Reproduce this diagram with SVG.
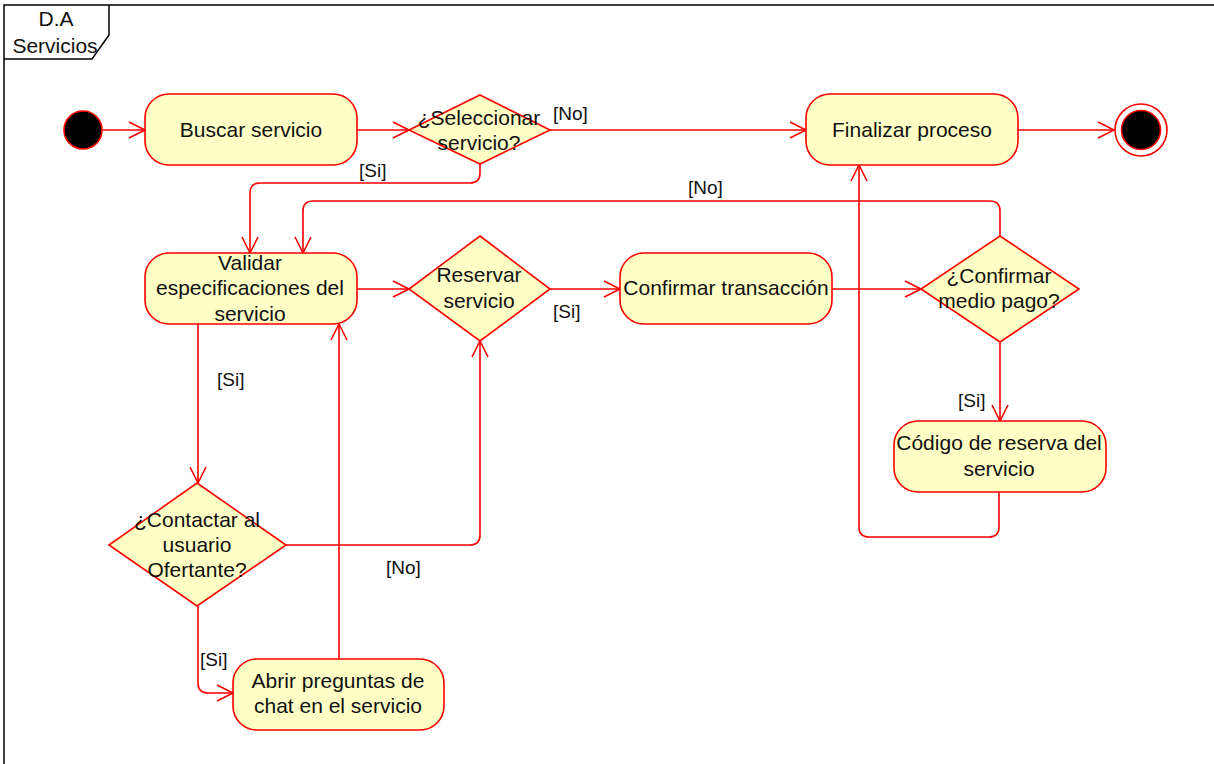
<svg xmlns="http://www.w3.org/2000/svg" width="1214" height="764" viewBox="0 0 1214 764">
<style>
.frame{fill:none;stroke:#000;stroke-width:1.5}
.act{fill:#FFFFC6;stroke:#FF0000;stroke-width:1.6}
.t{font-family:"Liberation Sans",Arial,sans-serif;font-size:21px;fill:#111;text-anchor:middle}
.g{font-family:"Liberation Sans",Arial,sans-serif;font-size:19px;fill:#111}
.c{fill:none;stroke:#FF0000;stroke-width:1.6}
</style>
<defs>
<marker id="arr" markerUnits="userSpaceOnUse" markerWidth="20" markerHeight="20" viewBox="-17 -10 20 20" refX="0" refY="0" orient="auto">
<path d="M-16,-8 L0,0 L-16,8" fill="none" stroke="#FF0000" stroke-width="1.6"/>
</marker>
</defs>
<rect width="1214" height="764" fill="#fff"/>
<g id="frame">
<path class="frame" d="M4,764 L4,5 L1214,5"/>
<path class="frame" d="M4,59 L92,59 L109,35 L109,5"/>
<text class="t" x="56" y="26">D.A</text>
<text class="t" x="55" y="53">Servicios</text>
</g>
<g id="connectors">
<path class="c" d="M103,130 L145,130" marker-end="url(#arr)"/>
<path class="c" d="M357,130 L409,130" marker-end="url(#arr)"/>
<path class="c" d="M550,130 L806,130" marker-end="url(#arr)"/>
<path class="c" d="M1018,130 L1114,130" marker-end="url(#arr)"/>
<path class="c" d="M480,164 L480,173 Q480,183 470,183 L260,183 Q250,183 250,193 L250,253" marker-end="url(#arr)"/>
<path class="c" d="M357,289 L409,289" marker-end="url(#arr)"/>
<path class="c" d="M550,289 L620,289" marker-end="url(#arr)"/>
<path class="c" d="M832,289 L921,289" marker-end="url(#arr)"/>
<path class="c" d="M1000,236 L1000,211 Q1000,201 990,201 L313,201 Q303,201 303,211 L303,253" marker-end="url(#arr)"/>
<path class="c" d="M1000,342 L1000,421" marker-end="url(#arr)"/>
<path class="c" d="M999,492 L999,527 Q999,537 989,537 L869,537 Q859,537 859,527 L859,165" marker-end="url(#arr)"/>
<path class="c" d="M198,324 L198,483" marker-end="url(#arr)"/>
<path class="c" d="M286,545 L470,545 Q480,545 480,535 L480,341" marker-end="url(#arr)"/>
<path class="c" d="M198,606 L198,683 Q198,693 208,693 L233,693" marker-end="url(#arr)"/>
<path class="c" d="M339,659 L339,324" marker-end="url(#arr)"/>
<text class="g" x="553" y="120">[No]</text>
<text class="g" x="359" y="177">[Si]</text>
<text class="g" x="688" y="194">[No]</text>
<text class="g" x="553" y="318">[Si]</text>
<text class="g" x="958" y="407">[Si]</text>
<text class="g" x="217" y="386">[Si]</text>
<text class="g" x="386" y="574">[No]</text>
<text class="g" x="200" y="666">[Si]</text>
</g>
<g id="start">
<circle cx="83" cy="130" r="19" fill="#000" stroke="#FF0000" stroke-width="1.6"/>
</g>
<g id="buscar">
<rect class="act" x="145" y="94" width="212" height="71" rx="24"/>
<text class="t" x="251" y="137">Buscar servicio</text>
</g>
<g id="seleccionar">
<polygon class="act" points="480,95 550,130 480,164 409,130"/>
<text class="t" x="479" y="125">¿Seleccionar</text>
<text class="t" x="479" y="150">servicio?</text>
</g>
<g id="finalizar">
<rect class="act" x="806" y="94" width="212" height="71" rx="24"/>
<text class="t" x="912" y="137">Finalizar proceso</text>
</g>
<g id="end">
<circle cx="1141" cy="130" r="26" fill="#fff" stroke="#FF0000" stroke-width="1.6"/>
<circle cx="1141" cy="130" r="19.5" fill="#000" stroke="#FF0000" stroke-width="1.6"/>
</g>
<g id="validar">
<rect class="act" x="145" y="253" width="212" height="71" rx="24"/>
<text class="t" x="250" y="270">Validar</text>
<text class="t" x="250" y="295">especificaciones del</text>
<text class="t" x="250" y="321">servicio</text>
</g>
<g id="reservar">
<polygon class="act" points="480,236 550,289 480,341 409,289"/>
<text class="t" x="479" y="282">Reservar</text>
<text class="t" x="479" y="308">servicio</text>
</g>
<g id="confirmarTransaccion">
<rect class="act" x="620" y="253" width="212" height="71" rx="24"/>
<text class="t" x="726" y="295">Confirmar transacción</text>
</g>
<g id="confirmarPago">
<polygon class="act" points="1000,236 1079,289 1000,342 921,289"/>
<text class="t" x="999" y="283">¿Confirmar</text>
<text class="t" x="999" y="308">medio pago?</text>
</g>
<g id="codigo">
<rect class="act" x="894" y="421" width="212" height="71" rx="24"/>
<text class="t" x="999" y="450">Código de reserva del</text>
<text class="t" x="999" y="476">servicio</text>
</g>
<g id="contactar">
<polygon class="act" points="197,483 286,545 197,606 109,545"/>
<text class="t" x="197" y="527">¿Contactar al</text>
<text class="t" x="197" y="552">usuario</text>
<text class="t" x="197" y="577">Ofertante?</text>
</g>
<g id="abrir">
<rect class="act" x="233" y="659" width="211" height="71" rx="24"/>
<text class="t" x="338" y="688">Abrir preguntas de</text>
<text class="t" x="338" y="713">chat en el servicio</text>
</g>
</svg>
